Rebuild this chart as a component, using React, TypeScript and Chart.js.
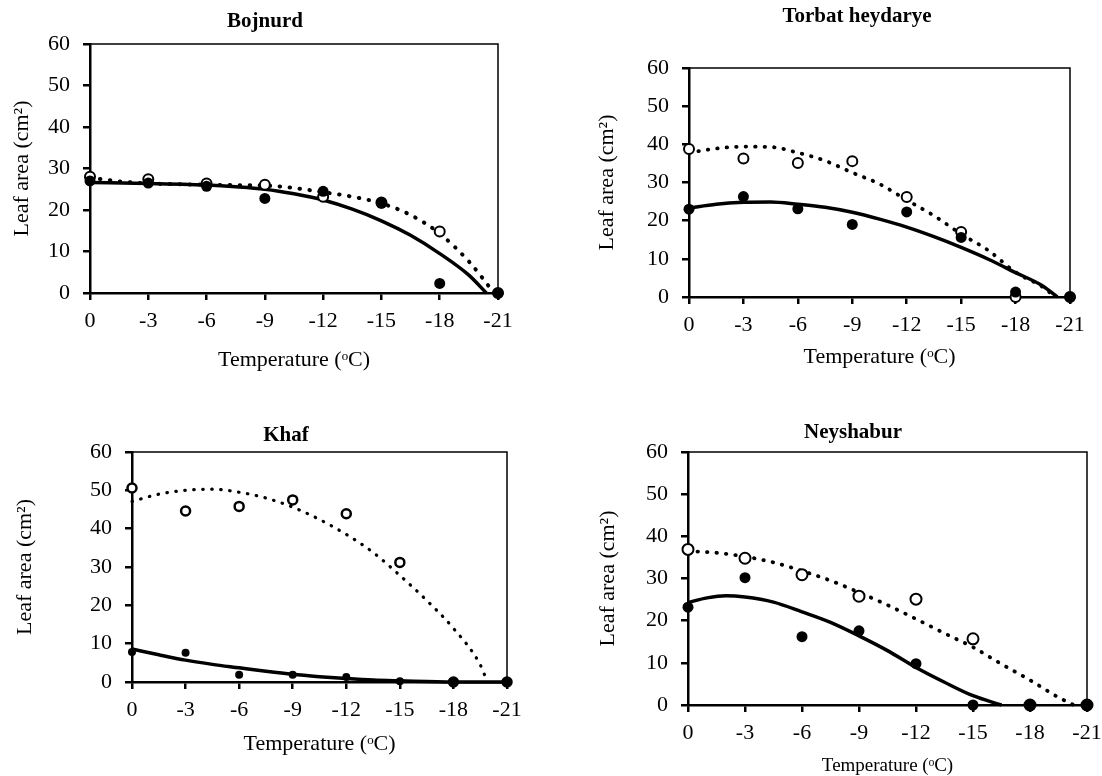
import { useEffect, useRef } from "react";
import { Chart, registerables, type Plugin } from "chart.js";

Chart.register(...registerables);

const FONT = "'Liberation Serif', 'Times New Roman', serif";

// shared axes
const temps = [0, -3, -6, -9, -12, -15, -18, -21];
const xTicks = [0, -3, -6, -9, -12, -15, -18, -21];
const yTicks = [0, 10, 20, 30, 40, 50, 60];

// Bojnurd
const bojnurdOpen = [28.0, 27.4, 26.4, 26.1, 23.2, 21.8, 14.8, 0];
const bojnurdFilled = [27.0, 26.5, 25.7, 22.8, 24.5, 21.6, 2.3, 0];
const bojnurdDottedT = [0, -1.5, -3, -4.5, -6, -7.5, -9, -10.5, -12, -13.5, -15, -16.5, -18, -19.5, -20.8];
const bojnurdDotted = [27.8, 26.9, 26.4, 26.2, 26.1, 26.0, 25.9, 25.3, 24.3, 23.2, 21.6, 18.8, 14.3, 7.6, 0];
const bojnurdSolidT = [0, -3, -6, -7.5, -9, -10.5, -12, -13.5, -15, -16.5, -18, -19.5, -20.4];
const bojnurdSolid = [26.6, 26.4, 26.0, 25.6, 25.0, 23.9, 22.4, 20.2, 17.4, 13.9, 9.5, 4.3, 0];

// Torbat heydarye
const torbatOpen = [38.8, 36.3, 35.1, 35.6, 26.2, 17.0, 0, 0];
const torbatFilled = [23.0, 26.3, 23.1, 19.0, 22.3, 15.6, 1.3, 0];
const torbatDottedT = [0, -1.5, -3, -4.5, -6, -7.5, -9, -10.5, -12, -13.5, -15, -16.5, -18, -19.5, -20.2];
const torbatDotted = [37.8, 38.9, 39.4, 39.3, 37.8, 35.7, 32.6, 29.6, 25.4, 21.3, 16.5, 12.2, 6.5, 2.6, 0];
const torbatSolidT = [0, -1.5, -3, -4.5, -6, -7.5, -9, -10.5, -12, -13.5, -15, -16.5, -18, -19.5, -20.3];
const torbatSolid = [23.3, 24.3, 24.8, 24.9, 24.3, 23.5, 22.2, 20.4, 18.3, 15.8, 13.0, 9.9, 6.4, 2.9, 0];

// Khaf
const khafOpen = [50.6, 44.6, 45.8, 47.5, 43.9, 31.2, 0, 0];
const khafFilled = [7.8, 7.6, 1.9, 1.9, 1.3, 0.2, 0.1, 0];
const khafDottedT = [0, -1.5, -3, -4.5, -6, -7.5, -9, -10.5, -12, -13.5, -15, -16.5, -18, -19.5, -19.9];
const khafDotted = [47.1, 49.0, 50.0, 50.3, 49.5, 48.0, 45.6, 42.4, 38.5, 33.8, 27.8, 21.3, 14.0, 4.5, 0];
const khafSolidT = [0, -1.5, -3, -4.5, -6, -7.5, -9, -10.5, -12, -13.5, -15, -18, -21];
const khafSolid = [8.6, 7.1, 5.7, 4.6, 3.7, 2.8, 2.0, 1.4, 0.9, 0.5, 0.3, 0, 0];

// Neyshabur
const neyshaburOpen = [36.9, 34.8, 30.9, 25.8, 25.1, 15.7, 0, 0];
const neyshaburFilled = [23.2, 30.2, 16.2, 17.6, 9.8, 0, 0, 0];
const neyshaburDottedT = [0, -1.5, -3, -4.5, -6, -7.5, -9, -10.5, -12, -13.5, -15, -16.5, -18, -19.5, -20.3];
const neyshaburDotted = [36.5, 36.1, 35.2, 33.8, 31.8, 29.5, 26.7, 23.7, 20.4, 17.0, 13.7, 9.7, 5.9, 1.8, 0];
const neyshaburSolidT = [0, -1, -2, -3, -4.5, -6, -7.5, -9, -10.5, -12, -13.5, -15, -16.5];
const neyshaburSolid = [24.3, 25.4, 25.9, 25.6, 24.4, 22.1, 19.6, 16.4, 12.9, 8.9, 5.4, 2.2, 0];

type PanelSpec = {
  title: string;
  open: number[];
  filled: number[];
  dottedT: number[];
  dotted: number[];
  solidT: number[];
  solid: number[];
  // plot box on the page and room around it
  box: { l: number; t: number; r: number; b: number };
  yW: number;
  xH: number;
  padTop: number;
  titleAt: { dx: number; dy: number };
  xTitleSize: number;
  filledR: number;
  openR: number;
  openBorder: number;
  dotW: number;
  dotGap: number;
};

const pts = (xs: number[], ys: number[]) => xs.map((x, i) => ({ x, y: ys[i] }));

const framePlugin: Plugin = {
  id: "frame",
  beforeDatasetsDraw(chart) {
    const { ctx, chartArea: a } = chart;
    ctx.save();
    ctx.strokeStyle = "#000";
    ctx.lineWidth = 1.5;
    ctx.beginPath();
    ctx.moveTo(a.left, a.top);
    ctx.lineTo(a.right, a.top);
    ctx.lineTo(a.right, a.bottom);
    ctx.stroke();
    ctx.restore();
  },
};

const titlePlugin: Plugin = {
  id: "panelTitle",
  afterDraw(chart, _args, opts: any) {
    const { ctx, chartArea: a } = chart;
    ctx.save();
    ctx.font = `bold 21px ${FONT}`;
    ctx.fillStyle = "#000";
    ctx.textAlign = "center";
    ctx.textBaseline = "middle";
    ctx.fillText(opts.text, a.left + opts.dx, a.top - opts.dy);
    ctx.restore();
  },
};

function Panel({ spec }: { spec: PanelSpec }) {
  const ref = useRef<HTMLCanvasElement | null>(null);
  const chartRef = useRef<Chart | null>(null);

  useEffect(() => {
    if (!ref.current) return;
    chartRef.current?.destroy();
    chartRef.current = new Chart(ref.current, {
      type: "scatter",
      data: {
        datasets: [
          {
            label: "filled",
            data: pts(temps, spec.filled),
            pointRadius: spec.filledR,
            pointBackgroundColor: "#000",
            pointBorderColor: "#000",
            pointBorderWidth: 0,
            order: 0,
            clip: false,
          },
          {
            label: "open",
            data: pts(temps, spec.open),
            pointRadius: spec.openR,
            pointBackgroundColor: "#fff",
            pointBorderColor: "#000",
            pointBorderWidth: spec.openBorder,
            order: 1,
            clip: false,
          },
          {
            label: "fit filled",
            data: pts(spec.solidT, spec.solid),
            showLine: true,
            pointRadius: 0,
            borderColor: "#000",
            borderWidth: 3.5,
            cubicInterpolationMode: "monotone",
            order: 2,
            clip: false,
          },
          {
            label: "fit open",
            data: pts(spec.dottedT, spec.dotted),
            showLine: true,
            pointRadius: 0,
            borderColor: "#000",
            borderWidth: spec.dotW,
            borderDash: [0.5, spec.dotGap],
            borderCapStyle: "round",
            cubicInterpolationMode: "monotone",
            order: 3,
            clip: false,
          },
        ],
      },
      options: {
        animation: false,
        responsive: true,
        maintainAspectRatio: false,
        layout: { padding: { top: spec.padTop, right: 24, left: 0, bottom: 0 } },
        plugins: {
          legend: { display: false },
          tooltip: { enabled: false },
          panelTitle: { text: spec.title, dx: spec.titleAt.dx, dy: spec.titleAt.dy },
        } as any,
        scales: {
          x: {
            type: "linear",
            reverse: true,
            min: -21,
            max: 0,
            afterBuildTicks: (s) => { s.ticks = xTicks.map((value) => ({ value })); },
            afterFit: (s) => { s.height = spec.xH; },
            grid: { drawOnChartArea: false, drawTicks: true, tickLength: 7, color: "#000", lineWidth: 2.5 },
            border: { display: true, color: "#000", width: 2.5 },
            ticks: { color: "#000", font: { family: FONT, size: 22 }, padding: 8, maxRotation: 0, callback: (v) => String(v) },
            title: {
              display: true,
              text: "Temperature (ᵒC)",
              color: "#000",
              font: { family: FONT, size: spec.xTitleSize },
              padding: { top: 2, bottom: 2 },
            },
          },
          y: {
            type: "linear",
            min: 0,
            max: 60,
            afterBuildTicks: (s) => { s.ticks = yTicks.map((value) => ({ value })); },
            afterFit: (s) => { s.width = spec.yW; },
            grid: { drawOnChartArea: false, drawTicks: true, tickLength: 7, color: "#000", lineWidth: 2.5 },
            border: { display: true, color: "#000", width: 2.5 },
            ticks: { color: "#000", font: { family: FONT, size: 22 }, padding: 13 },
            title: {
              display: true,
              text: "Leaf area (cm²)",
              color: "#000",
              font: { family: FONT, size: 22 },
              padding: { top: 2, bottom: 2 },
            },
          },
        },
      },
      plugins: [framePlugin, titlePlugin],
    });
    return () => chartRef.current?.destroy();
  }, [spec]);

  const { l, t, r, b } = spec.box;
  return (
    <div
      style={{
        position: "absolute",
        left: l - spec.yW,
        top: t - spec.padTop,
        width: spec.yW + (r - l) + 24,
        height: spec.padTop + (b - t) + spec.xH,
      }}
    >
      <canvas ref={ref} />
    </div>
  );
}

const panels: PanelSpec[] = [
  {
    title: "Bojnurd",
    open: bojnurdOpen, filled: bojnurdFilled,
    dottedT: bojnurdDottedT, dotted: bojnurdDotted,
    solidT: bojnurdSolidT, solid: bojnurdSolid,
    box: { l: 90, t: 44, r: 498, b: 293 },
    yW: 83, xH: 82, padTop: 38, titleAt: { dx: 175, dy: 22 }, xTitleSize: 22,
    filledR: 5.5, openR: 5, openBorder: 2, dotW: 4, dotGap: 9.5,
  },
  {
    title: "Torbat heydarye",
    open: torbatOpen, filled: torbatFilled,
    dottedT: torbatDottedT, dotted: torbatDotted,
    solidT: torbatSolidT, solid: torbatSolid,
    box: { l: 689, t: 68, r: 1070, b: 297 },
    yW: 97, xH: 75, padTop: 67, titleAt: { dx: 168, dy: 51 }, xTitleSize: 22,
    filledR: 5.5, openR: 5, openBorder: 2, dotW: 3.8, dotGap: 9,
  },
  {
    title: "Khaf",
    open: khafOpen, filled: khafFilled,
    dottedT: khafDottedT, dotted: khafDotted,
    solidT: khafSolidT, solid: khafSolid,
    box: { l: 132, t: 452, r: 507, b: 682 },
    yW: 122, xH: 77, padTop: 32, titleAt: { dx: 154, dy: 16 }, xTitleSize: 22,
    filledR: 4, openR: 4.5, openBorder: 2.5, dotW: 3.2, dotGap: 8.5,
  },
  {
    title: "Neyshabur",
    open: neyshaburOpen, filled: neyshaburFilled,
    dottedT: neyshaburDottedT, dotted: neyshaburDotted,
    solidT: neyshaburSolidT, solid: neyshaburSolid,
    box: { l: 688, t: 452, r: 1087, b: 705 },
    yW: 95, xH: 74, padTop: 35, titleAt: { dx: 165, dy: 19 }, xTitleSize: 19,
    filledR: 5.5, openR: 5.5, openBorder: 2, dotW: 3.8, dotGap: 9,
  },
];

export default function App() {
  return (
    <div
      style={{
        position: "fixed",
        left: 0,
        top: 0,
        width: 1102,
        height: 776,
        background: "#fff",
        overflow: "hidden",
      }}
    >
      {panels.map((p) => (
        <Panel key={p.title} spec={p} />
      ))}
    </div>
  );
}
